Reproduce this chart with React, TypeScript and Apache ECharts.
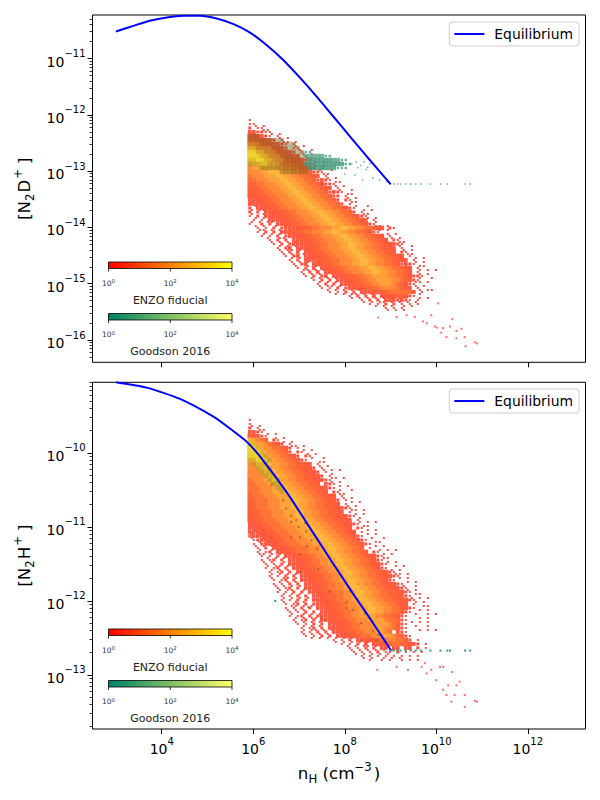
import React, { useEffect, useRef } from "react";
import * as echarts from "echarts";

// log10 of nH and of the abundances
const eqLogNH_D = [3.0, 3.38, 3.74, 4.11, 4.47, 4.84, 5.2, 5.57, 5.93, 6.29, 6.66, 7.02, 7.39, 7.75, 8.12, 8.48, 9.0];
const eqLogN2D = [-10.52, -10.42, -10.33, -10.27, -10.24, -10.24, -10.29, -10.39, -10.54, -10.76, -11.03, -11.34, -11.68, -12.03, -12.39, -12.74, -13.23];
const eqLogNH_H = [3.0, 3.67, 4.4, 5.13, 5.49, 5.86, 6.15, 6.74, 7.31, 7.74, 8.18, 8.62, 9.0];
const eqLogN2H = [-9.045, -9.117, -9.27, -9.51, -9.67, -9.85, -10.05, -10.54, -11.08, -11.49, -11.9, -12.3, -12.66];

// density levels of the hexbin clouds on a regular bin grid (digit = level, blank = empty)
const binLogNH0 = 5.9235;
const binLogNHStep = 0.08743;
const binTopY0 = -12.092;
const binTopStep = -0.07105;
const binBottomY0 = -9.554;
const binBottomStep = -0.05405;

const enzoTopRows = [
  "1",
  "11",
  "2 11",
  "332211",
  "443321 1",
  "5544332 1",
  "6655443321 1",
  "7766554432 11",
  "887766554432 1",
  "9988776655433 1",
  "9998877665544321",
  "89999887766554221",
  "78899998877665432 1",
  "7778899998877665221",
  "677788899887766543 1",
  "667778889988776652321",
  "5566777889988776654221",
  "555667778899887766543 1",
  "445566777889988776652321",
  "44455667778899887766522 1",
  "33445566777889988776652 21",
  "333445566777889988776652 1",
  "2 3344556677788998877665421",
  "2 2 33445566777889988776652 1",
  "1 2 33344556677788998877665321",
  " 1 1 3334455667778899887766543 1",
  "1  2 2 3344556677788998877665421",
  "  1 1 2 23334455667778899887766544 21",
  "  1 2 2 3344556677788998877665421",
  "   1 1 2 2334455667778899887766544 1",
  "     1 2 2 334455667778899887766544 21",
  "      1 2 23334455667778899887766544321",
  "       1 23 3344556677788998877665443 1",
  "        1 2 3 34455667778899887766544 21",
  "         1 23 3344556677788998877665544 1",
  "          1 2 33344556677788998877665443 1",
  "           1 23 34455667778899887766542321",
  "            1 2 3 34455667778899887766544 1",
  "             1 2 3 3445566777889988776654 1",
  "              1 2 23 33445566778888776654221",
  "                1 2 2 334455667788887765421",
  "                 1 2 2 3344556677888765421",
  "                  1 1 2 23344556677776543 1",
  "                    1 1 2 2 33344556666663 1",
  "                         1 2 2 3 344455421",
  "                            1 2 2 3332321 1",
  "                              1 1 2 2 1 1 1",
  "                                  1 1 1",
];

const enzoBottomRows = [
  "1",
  "1",
  "2 1",
  "3321",
  "44321",
  "98765 21",
  "998876542 1",
  "99887766542 1",
  "89988776652 21",
  "8899887766542 21",
  "788998877665521",
  "7788998877665543 1",
  "77889988776655442 1",
  "777889988776655442 1",
  "7777889988776655442 1",
  "677788998877665544321",
  "667778899887766554 321",
  "6667778899887766554321",
  "66677788899887766554 21",
  "5666777888998877665544 1",
  "55666777888998877665442 1",
  "55666777888998877665544 1",
  "55666777888998877665544321",
  "455666777888998877665543 1",
  "455666777888998877665544321",
  "44556667778889988776655443 1",
  "3445566677788899887766554421",
  "33445566677788899887766554 21",
  "333445566677788899887766544 1",
  "23334455666777888998877665421",
  " 12334455666777888998877665421",
  " 1 2334455666777888998877665421",
  "  1 2 33445566677788998877665 1",
  "  1 12 33445666777889988776654 21",
  "   1 1 2 3344556677889988776654421",
  "   1 12 2 334455667788998877665421",
  "    1 1 2 3344556677889988776654421",
  "    1 12 2 334455667788998877665421",
  "     1 12 2 3344556677889988776654421",
  "     1 1 2 2 3344556677899887766554421",
  "      1 12 2 334455667788998877665421",
  "      1 1 2 2 3344556677899887766554421",
  "       1 12 2 33445566778899887766554321",
  "       1 1 2 2 33445566778899887766554421",
  "        1 1 2 2 3344556677899887766554321",
  "        1 1 2 2 33445566778899887766554421",
  "         1 12 2 233445566778899887766544 1",
  "         1 1 2 2 3344556677788998877665421",
  "          1 1 2 2 33445566778899887766521",
  "          1 12 2 23344556677888877665421",
  "           1 12 2 3344555667778888766521",
  "            1 1 2 2 33445566777888876521",
  "             1 12 2 33445566777788776521",
  "             1 1 2 2 334455667778876 321",
  "              1 1 2 2 3344556667778876521",
  "                     1 1 2 33445566776652 1",
  "                       1 1 2 3 344556655432 1",
  "                         1 1 2 2 33 33 33 2 1",
  "                          1 1 1 2 11 2 1 1 1",
  "                            1 1 1 1 1 1 1 1",
  "                              1  1 1  1 1 1",
];

// extra scattered bins at the cloud edges, half a bin off the grid: [row, column, pattern]
const enzoTopSpeckle: [number, number, string][] = [
  [1, 1, "1 1"], [2, 3, "11"], [3, 4, " 1 1"], [4, 7, "1 1"], [5, 8, "11 1"], [6, 10, " 1 1"], [7, 12, "1  1"], [8, 13, "1 1"], [9, 14, "11"], [10, 15, " 1 1"], [11, 16, "1 1 "], [12, 17, "1  1"], [13, 18, "11"], [14, 19, "1 1"], [15, 20, " 11"], [16, 21, "1 1"], [17, 22, "1  1"], [18, 23, " 11"], [19, 24, "1 1"], [20, 25, "11 "], [21, 26, "1  1"], [22, 27, " 1 1"], [23, 28, "11"], [24, 29, "1 1"], [25, 30, " 1"], [26, 31, "11 1"], [27, 32, "1 1"], [28, 33, " 1 1"], [29, 35, "1 1"], [30, 36, " 11"], [31, 37, "1  1"], [32, 38, "1 1"], [33, 39, "11"], [34, 40, " 1 1"], [35, 41, "1 1"], [36, 41, " 11"], [37, 42, "1 1 1"], [38, 41, " 1 1"], [39, 42, "1  1"], [40, 41, "11 1"], [41, 41, "1 1"], [42, 42, "1 11"], [43, 41, " 1"], [44, 42, "1 1"],
  [20, 0, "1 1"], [21, 0, " 1 1"], [22, 0, "1 11"], [23, 0, "1  1 1"], [24, 0, " 1 1 1"], [25, 0, "1 1 11"], [26, 1, "1 1  1"], [27, 2, "11 1 1"], [28, 2, " 1 1 1"], [29, 4, "1  11"], [30, 5, "1 1 1 1"], [31, 6, " 1 1 1"], [32, 7, "1 11 1"], [33, 8, "1 1  1"], [34, 9, " 1 1 11"], [35, 10, "1 1 1"], [36, 11, "1  1 1"], [37, 12, " 11 1 1"], [38, 13, "1 1 1"], [39, 15, "1 1 1 1"], [40, 16, " 1 1 1"], [41, 17, "1 11 1"], [42, 19, "1 1 1 1 1"], [43, 21, "1 1 11 1 1"], [44, 25, "1 1 1 1 1 1 1"], [45, 28, "1 1 11 1 1 1 1"], [46, 31, "1 1 1  1 1"], [47, 34, "1 1 1"],
];
const enzoBottomSpeckle: [number, number, string][] = [
  [1, 0, "1 1"], [2, 2, "11"], [3, 4, "1 1"], [4, 5, " 1 1"], [5, 8, "1 1"], [6, 10, "11 1"], [7, 12, " 1 1"], [8, 14, "1 1"], [9, 15, "1  1"], [10, 16, " 11"], [11, 17, "1 1"], [12, 18, "1 1 1"], [13, 19, " 1"], [14, 20, "11 1"], [15, 20, "1 1"], [16, 21, " 1 1"], [17, 22, "1  1"], [18, 22, "11"], [19, 23, "1 1"], [20, 24, " 1 1"], [21, 24, "1 1"], [22, 25, "11 1"], [23, 26, "1 1"], [24, 26, " 1"], [25, 27, "1 1 1"], [26, 28, "11"], [27, 28, " 1 1"], [28, 29, "1 1"], [29, 30, "1  1"], [30, 30, " 11"], [31, 31, "1 1"], [32, 32, "1 1 1"], [33, 32, " 1 1"], [34, 33, "11"], [35, 34, "1 1"], [36, 35, " 1 1"], [37, 35, "1 1"], [38, 36, "11 1"], [39, 37, "1 1"], [40, 38, " 1 1"], [41, 38, "1  1"], [42, 39, "1 1"], [43, 40, " 11"], [44, 40, "1 1 1"], [45, 41, "1 1"], [46, 42, " 11"], [47, 42, "1 1"], [48, 41, "1  1 1"], [49, 41, " 1 1"], [50, 40, "1 1 1"], [51, 41, "1  1"], [52, 41, " 1 1 1"],
  [26, 0, "1 1"], [27, 0, " 1 1"], [28, 0, "1 11 1"], [29, 0, "1  1 1"], [30, 1, " 1 1 1"], [31, 1, "1 1 11"], [32, 2, "1  1 1"], [33, 2, "11 1 1"], [34, 3, " 1 1 1"], [35, 3, "1 1  1"], [36, 4, "1 11 1"], [37, 4, " 1 1 1"], [38, 5, "1 1 1 1"], [39, 5, "1  11 1"], [40, 6, " 1 1 1"], [41, 6, "1 1 1 1"], [42, 7, "1 11  1"], [43, 7, " 1 1 1"], [44, 8, "1 1 1 1"], [45, 8, "1  1 1"], [46, 9, " 11 1 1"], [47, 9, "1 1 1"], [48, 10, "1  1 1 1"], [49, 10, " 1 1 11"], [50, 11, "1 1 1 1"], [51, 12, " 1 1 1"], [52, 13, "1 11 1 1"], [53, 13, "1 1 1 1"], [54, 14, " 1 1 1 1 1 1"], [55, 21, "1 1 1 1 1"], [56, 24, "1 1 11 1"], [57, 25, "1 1 1 1 1 1"], [58, 26, "1 1 1 1 1"], [59, 28, "1 1  1 1 1"],
];

const enzoTopLogNH = [8.73, 9.13, 9.35, 9.53, 9.71, 9.79, 9.89, 10.04, 9.97, 10.02, 10.15, 10.11, 10.22, 10.35, 10.3, 10.44, 10.55, 10.44, 10.62, 10.64, 10.84, 10.89];
const enzoTopLogN = [-15.6, -15.59, -15.56, -15.59, -15.67, -15.7, -15.56, -15.35, -15.76, -15.78, -15.79, -15.87, -15.95, -15.63, -15.76, -15.97, -15.8, -15.84, -15.95, -16.11, -16.04, -16.06];
const enzoBottomLogNH = [8.71, 9.13, 9.38, 9.68, 9.79, 9.75, 9.89, 10.0, 10.08, 10.15, 10.26, 10.35, 10.51, 10.15, 10.22, 10.4, 10.62, 10.33, 10.62, 10.84, 10.89, 10.44];
const enzoBottomLogN = [-12.93, -12.89, -12.93, -12.89, -12.98, -12.84, -12.93, -13.07, -12.89, -12.89, -13.14, -12.96, -13.09, -13.2, -13.27, -13.27, -13.27, -13.36, -13.43, -13.35, -13.36, -13.14];

const goodsonTopRows = [
  "",
  "",
  "",
  "",
  "444",
  "444444444",
  "555444444444",
  "6655554444444",
  "7766555444444411",
  "777665554444442222211",
  "6677665554444443333332211",
  "55566555444444333333333311",
  "   4444444444443333333111",
  "        4444444",
];
const goodsonBottomRows = [
  "",
  "",
  "",
  "",
  "",
  "",
  "66",
  "776",
  "7776",
  "77765",
  "667765",
  " 5665",
  "  5665",
  "   565",
  "    565",
  "     565",
  "      55",
  "       55",
  "        5",
];

const goodsonTopLogNH = [8.0, 8.22, 8.39, 8.28, 8.5, 8.61, 8.76, 8.92, 8.15, 8.25, 8.35, 8.42, 8.47, 8.55, 9.0, 9.07, 9.15, 9.22, 9.33, 9.44, 9.55, 9.66, 9.87, 10.09, 10.24, 10.63, 10.74];
const goodsonTopLogN = [-13.05, -13.07, -13.16, -12.94, -12.93, -13.12, -13.16, -13.19, -12.87, -12.84, -12.9, -12.84, -12.97, -12.87, -13.23, -13.23, -13.23, -13.23, -13.23, -13.23, -13.23, -13.23, -13.23, -13.23, -13.23, -13.23, -13.23];
const goodsonBottomLogNH = [6.4, 6.65, 6.72, 6.83, 6.83, 6.94, 6.99, 7.13, 7.16, 6.83, 7.02, 7.27, 7.18, 7.4, 7.02, 7.71, 7.42, 7.02, 7.85, 7.67, 7.93, 8.11, 8.04, 8.04, 7.2, 8.18, 8.36, 8.44, 7.49, 8.62, 8.73, 8.69];
const goodsonBottomLogN = [-10.43, -10.64, -10.75, -10.85, -10.93, -10.91, -11.0, -10.95, -11.06, -11.14, -11.14, -11.18, -11.26, -11.3, -11.37, -11.47, -11.57, -11.61, -11.58, -11.87, -11.88, -11.87, -12.01, -12.1, -12.08, -12.12, -12.3, -12.17, -12.23, -12.41, -12.46, -12.53];
const goodsonTailLogNH = [6.48, 9.0, 9.07, 9.15, 9.22, 9.33, 9.44, 9.55, 9.66, 9.87, 10.09, 10.24, 10.3, 10.63, 10.74];
const goodsonTailLogN = [-12.0, -12.67, -12.67, -12.67, -12.67, -12.67, -12.67, -12.67, -12.67, -12.67, -12.67, -12.67, -12.67, -12.67, -12.67];

const enzoColors = ["", "#ff4a42", "#ff4e42", "#ff5640", "#ff5c3c", "#ff6438", "#ff7436", "#ff8a38", "#ffa23a", "#ffb83f"];
const goodsonColors = ["", "rgba(40,140,110,0.7)", "rgba(85,165,135,0.8)", "rgba(60,150,120,0.8)", "rgba(110,90,20,0.4)", "rgba(150,145,30,0.42)", "rgba(195,190,30,0.55)", "rgba(230,225,40,0.68)"];

const xMajor = [4, 6, 8, 10, 12];
const yMajorTop = [-11, -12, -13, -14, -15, -16];
const yMajorBottom = [-10, -11, -12, -13];
const colorbarTicks = [0, 2, 4];

const xExtent = [2.487, 13.26];
const yExtentTop = [-16.396, -10.227];
const yExtentBottom = [-13.73, -9.045];

const FONT = "DejaVu Sans";
const TICK_COLOR = "#000";

function gridPoints(rows: string[], y0: number, yStep: number) {
  const pts: number[][] = [];
  rows.forEach((row, r) => {
    for (let c = 0; c < row.length; c++) {
      const level = Number(row[c]);
      if (row[c] !== " " && level > 0) pts.push([binLogNH0 + c * binLogNHStep, y0 + r * yStep, level]);
    }
  });
  return pts;
}
function specklePoints(rows: [number, number, string][], y0: number, yStep: number) {
  const pts: number[][] = [];
  rows.forEach(([r, c0, pattern]) => {
    for (let i = 0; i < pattern.length; i++) {
      if (pattern[i] === "1") pts.push([binLogNH0 + (c0 + i + 0.5) * binLogNHStep, y0 + (r + 0.5) * yStep, 1]);
    }
  });
  return pts;
}
const zipPoints = (xs: number[], ys: number[], level: number) => xs.map((x, i) => [x, ys[i], level]);
const minorTicks = (extent: number[]) => {
  const out: number[] = [];
  for (let d = Math.floor(extent[0]); d < extent[1]; d++) {
    for (let k = 2; k < 10; k++) {
      const v = d + Math.log10(k);
      if (v > extent[0] && v < extent[1]) out.push(v);
    }
  }
  return out;
};

const richAxis = {
  a: { fontSize: 14, lineHeight: 20, fontFamily: FONT, color: "#000", verticalAlign: "bottom" },
  sup: { fontSize: 10, lineHeight: 20, fontFamily: FONT, color: "#000", verticalAlign: "top" },
};
const richName = {
  a: { fontSize: 16.7, lineHeight: 24, fontFamily: FONT, color: "#000" },
  sup: { fontSize: 11.7, lineHeight: 24, fontFamily: FONT, color: "#000", verticalAlign: "top", padding: [0, 2, 0, 0] },
  sub: { fontSize: 11.7, lineHeight: 24, fontFamily: FONT, color: "#000", verticalAlign: "bottom" },
  supWide: { fontSize: 11.7, lineHeight: 24, fontFamily: FONT, color: "#000", verticalAlign: "top", padding: [0, 5, 0, 1] },
  subWide: { fontSize: 11.7, lineHeight: 24, fontFamily: FONT, color: "#000", verticalAlign: "bottom", padding: [0, 1, 0, 0] },
};
const powLabel = (v: number) => `{a|10}{sup|${String(Math.round(v)).replace("-", "\u2212")}}`;

function colorbar(top: number, title: string, from: string, to: string) {
  const left = 108.5;
  const width = 123.5;
  const h = 6.5;
  const kids: any[] = [
    {
      type: "rect",
      shape: { x: left, y: top, width, height: h },
      style: {
        fill: new echarts.graphic.LinearGradient(0, 0, 1, 0, [
          { offset: 0, color: from },
          { offset: 1, color: to },
        ]),
        stroke: "#000",
        lineWidth: 0.8,
      },
    },
  ];
  colorbarTicks.forEach((t) => {
    const x = left + (width * t) / 4;
    kids.push({ type: "line", shape: { x1: x, y1: top + h, x2: x, y2: top + h + 3 }, style: { stroke: "#000", lineWidth: 0.8 } });
    kids.push({
      type: "text",
      style: {
        x,
        y: top + h + 14,
        text: `{a|10}{s|${t}}`,
        rich: {
          a: { fontSize: 7.5, fontFamily: FONT, fill: "#333", lineHeight: 9, verticalAlign: "bottom" },
          s: { fontSize: 5.5, fontFamily: FONT, fill: "#333", lineHeight: 9, verticalAlign: "top" },
        },
        align: "center",
        verticalAlign: "middle",
      },
    });
  });
  kids.push({
    type: "text",
    style: { x: left + width / 2, y: top + h + 31.5, text: title, fontSize: 11, fontFamily: FONT, fill: "#222", align: "center", verticalAlign: "middle" },
  });
  return kids;
}

const axisBase = {
  type: "value" as const,
  axisLine: { show: false },
  splitLine: { show: false },
  minorTick: { show: false },
  minorSplitLine: { show: false },
};

function xAxis(gridIndex: number, labels: boolean, min: number, max: number) {
  return {
    ...axisBase,
    gridIndex,
    min,
    max,
    axisTick: { show: true, length: 5, inside: false, lineStyle: { color: TICK_COLOR, width: 1 }, customValues: xMajor },
    axisLabel: labels
      ? { show: true, margin: 7, formatter: powLabel, rich: richAxis, customValues: xMajor, hideOverlap: false, showMinLabel: true, showMaxLabel: true }
      : { show: false },
    ...(labels
      ? { name: "{a|n}{sub|H}{a| (cm}{sup|\u22123}{a|)}", nameLocation: "middle", nameGap: 32, nameTextStyle: { rich: richName } }
      : {}),
  };
}
function yAxis(gridIndex: number, major: number[], extent: number[], name: string) {
  return {
    ...axisBase,
    gridIndex,
    position: "left",
    min: extent[0],
    max: extent[1],
    axisTick: { show: true, length: 5, lineStyle: { color: TICK_COLOR, width: 1 }, customValues: major },
    axisLabel: { show: true, margin: 7, formatter: powLabel, rich: richAxis, customValues: major, hideOverlap: false },
    name,
    nameLocation: "middle",
    nameGap: 56,
    nameRotate: 90,
    nameTextStyle: { rich: richName },
  };
}
function yMinor(gridIndex: number, extent: number[]) {
  return {
    ...axisBase,
    gridIndex,
    position: "left",
    min: extent[0],
    max: extent[1],
    axisTick: { show: true, length: 3, lineStyle: { color: TICK_COLOR, width: 0.8 }, customValues: minorTicks(extent) },
    axisLabel: { show: false },
  };
}

function hexSeries(name: string, xi: number, yi: number, data: number[][], colors: string[], green: boolean, z: number) {
  return {
    type: "scatter" as const,
    name,
    xAxisIndex: xi,
    yAxisIndex: yi,
    data,
    symbol: "rect",
    z,
    symbolSize: (v: number[]) => (green ? (v[2] === 1 ? 2.4 : 4.4) : v[2] === 1 ? 2 : v[2] === 2 ? 3 : v[2] === 3 ? 3.8 : 4.6),
    itemStyle: { color: (p: any) => colors[p.value[2]], borderWidth: 0, opacity: 1 },
    emphasis: { disabled: true },
    silent: true,
  };
}
function dotSeries(name: string, xi: number, yi: number, data: number[][], color: string, size: number, z: number) {
  return {
    type: "scatter" as const,
    name,
    xAxisIndex: xi,
    yAxisIndex: yi,
    data: data.map((d) => [d[0], d[1]]),
    symbol: "rect",
    symbolSize: size,
    z,
    itemStyle: { color },
    silent: true,
  };
}
function eqSeries(xi: number, yi: number, xs: number[], ys: number[]) {
  return {
    type: "line" as const,
    name: "Equilibrium",
    xAxisIndex: xi,
    yAxisIndex: yi,
    data: xs.map((x, i) => [x, ys[i]]),
    symbol: "none",
    smooth: 0.2,
    lineStyle: { color: "#0000ff", width: 2 },
    itemStyle: { color: "#0000ff" },
    z: 10,
    clip: true,
  };
}
const legend = (top: number) => ({
  data: ["Equilibrium"],
  right: 21,
  top,
  orient: "horizontal",
  icon: "rect",
  itemWidth: 30,
  itemHeight: 2,
  itemGap: 0,
  padding: [5, 6, 5, 5],
  borderColor: "#ccc",
  borderWidth: 1,
  borderRadius: 3,
  backgroundColor: "rgba(255,255,255,0.8)",
  selectedMode: false,
  textStyle: { fontFamily: FONT, fontSize: 13.9, color: "#000", padding: [0, 0, 0, 5] },
});

export default function App() {
  const ref = useRef<HTMLDivElement>(null);
  useEffect(() => {
    const chart = echarts.init(ref.current!, undefined, { renderer: "svg", width: 600, height: 800 });
    chart.setOption({
      animation: false,
      backgroundColor: "#fff",
      textStyle: { fontFamily: FONT },
      legend: [legend(22), legend(389)],
      grid: [
        { left: 92.5, width: 493, top: 15, height: 347.3, show: true, borderColor: "#000", borderWidth: 1, backgroundColor: "transparent" },
        { left: 92.5, width: 493, top: 382.3, height: 346.7, show: true, borderColor: "#000", borderWidth: 1, backgroundColor: "transparent" },
      ],
      xAxis: [xAxis(0, false, xExtent[0], xExtent[1]), xAxis(1, true, xExtent[0], xExtent[1])],
      yAxis: [
        yAxis(0, yMajorTop, yExtentTop, "{a|[N}{subWide|2}{a|D}{supWide|+}{a|]}"),
        yAxis(1, yMajorBottom, yExtentBottom, "{a|[N}{subWide|2}{a|H}{supWide|+}{a|]}"),
        yMinor(0, yExtentTop),
        yMinor(1, yExtentBottom),
      ],
      series: [
        hexSeries("ENZO top", 0, 0, gridPoints(enzoTopRows, binTopY0, binTopStep), enzoColors, false, 2),
        hexSeries("ENZO top edge", 0, 0, specklePoints(enzoTopSpeckle, binTopY0, binTopStep), enzoColors, false, 2),
        dotSeries("ENZO top sparse", 0, 0, zipPoints(enzoTopLogNH, enzoTopLogN, 1), "#ff4b40", 2, 2),
        hexSeries("Goodson top", 0, 0, gridPoints(goodsonTopRows, binTopY0, binTopStep), goodsonColors, true, 3),
        dotSeries("Goodson top sparse", 0, 0, zipPoints(goodsonTopLogNH, goodsonTopLogN, 1), "#3f9f85", 1.5, 3),
        eqSeries(0, 0, eqLogNH_D, eqLogN2D),
        hexSeries("ENZO bottom", 1, 1, gridPoints(enzoBottomRows, binBottomY0, binBottomStep), enzoColors, false, 2),
        hexSeries("ENZO bottom edge", 1, 1, specklePoints(enzoBottomSpeckle, binBottomY0, binBottomStep), enzoColors, false, 2),
        dotSeries("ENZO bottom sparse", 1, 1, zipPoints(enzoBottomLogNH, enzoBottomLogN, 1), "#ff4b40", 2, 2),
        hexSeries("Goodson bottom", 1, 1, gridPoints(goodsonBottomRows, binBottomY0, binBottomStep), goodsonColors, true, 3),
        dotSeries("Goodson bottom sparse", 1, 1, zipPoints(goodsonBottomLogNH, goodsonBottomLogN, 1), "rgba(110,80,20,0.7)", 2, 3),
        dotSeries("Goodson bottom tail", 1, 1, zipPoints(goodsonTailLogNH, goodsonTailLogN, 1), "#008066", 2, 3),
        eqSeries(1, 1, eqLogNH_H, eqLogN2H),
      ],
      graphic: [
        ...colorbar(262, "ENZO fiducial", "#ff0000", "#ffff00"),
        ...colorbar(313.5, "Goodson 2016", "#008066", "#ffff66"),
        ...colorbar(629, "ENZO fiducial", "#ff0000", "#ffff00"),
        ...colorbar(680.5, "Goodson 2016", "#008066", "#ffff66"),
      ].map((g) => ({ ...g, z: 20 })),
    });
    return () => chart.dispose();
  }, []);
  return <div ref={ref} style={{ position: "fixed", left: 0, top: 0, width: 600, height: 800 }} />;
}
